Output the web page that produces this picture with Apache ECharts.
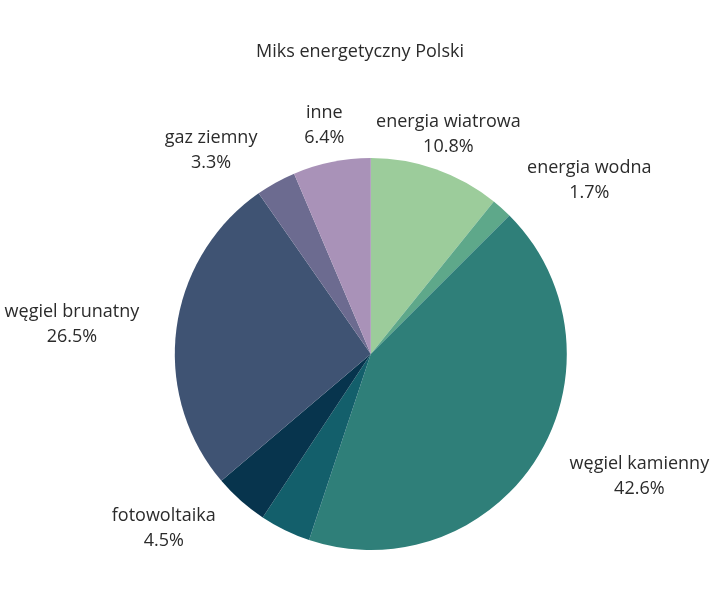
<!DOCTYPE html>
<html>
<head>
<meta charset="utf-8">
<script src="https://cdn.jsdelivr.net/npm/echarts@6/dist/echarts.min.js"></script>
<style>
html,body{margin:0;padding:0;background:#fff;}
#chart{width:720px;height:600px;}
</style>
</head>
<body>
<div id="chart"></div>
<script>
var titleText = 'Miks energetyczny Polski';
var categories = ['energia wiatrowa', 'energia wodna', 'węgiel kamienny', 'biomasa', 'fotowoltaika', 'węgiel brunatny', 'gaz ziemny', 'inne'];
var values = [10.8, 1.7, 42.6, 4.2, 4.5, 26.5, 3.3, 6.4];
var showLabel = [true, true, true, false, true, true, true, true];
var colors = ['#9ccc9b', '#5ea88a', '#2f7f79', '#135f6b', '#07344d', '#3f5373', '#6c6b90', '#a992b8'];

var data = categories.map(function (c, i) {
  return {
    name: c,
    value: values[i],
    itemStyle: { color: colors[i] },
    label: { show: showLabel[i] }
  };
});

var chart = echarts.init(document.getElementById('chart'));
chart.setOption({
  animation: false,
  title: {
    text: titleText,
    left: 'center',
    top: 38,
    textStyle: { fontFamily: 'Open Sans', fontSize: 18, fontWeight: 'normal', color: '#2b2b2b' }
  },
  series: [{
    type: 'pie',
    center: ['51.5%', '59%'],
    radius: 196,
    startAngle: 90,
    clockwise: true,
    avoidLabelOverlap: false,
    data: data,
    label: {
      show: true,
      position: 'outside',
      fontFamily: 'Open Sans',
      fontSize: 18,
      lineHeight: 25,
      color: '#2b2b2b',
      formatter: function (p) { return p.name + '\n' + p.value.toFixed(1) + '%'; }
    },
    labelLine: { show: false, length: 37, length2: 0 },
    labelLayout: function (p) {
      var pts = p.labelLinePoints;
      var rc = p.labelRect;
      if (!pts || !rc) return {};
      var dx = pts[1][0] - pts[0][0];
      var dy = pts[1][1] - pts[0][1];
      if (Math.abs(dx) < 0.5 * Math.abs(dy)) {
        return { x: pts[1][0], y: pts[1][1], align: 'center', verticalAlign: 'middle' };
      }
      return { x: rc.x + rc.width / 2 + (dx > 0 ? -4.5 : 4.5), y: rc.y + rc.height / 2, align: 'center', verticalAlign: 'middle' };
    }
  }]
});
</script>
</body>
</html>
